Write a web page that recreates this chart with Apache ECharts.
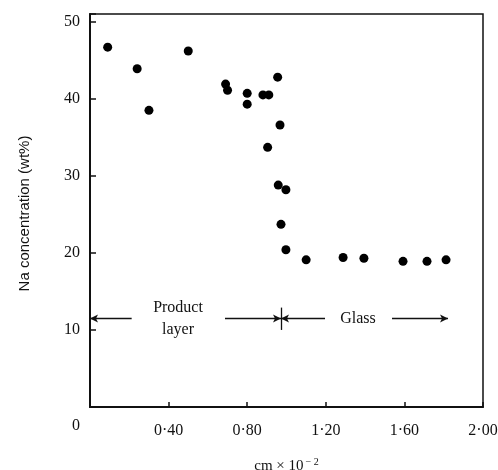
<!DOCTYPE html>
<html>
<head>
<meta charset="utf-8">
<script src="https://cdn.jsdelivr.net/npm/echarts@6/dist/echarts.min.js"></script>
<style>html,body{margin:0;padding:0;background:#fff}#c{width:498px;height:470px}</style>
</head>
<body>
<div id="c"></div>
<script>
var xValues = [0.09,0.24,0.30,0.50,0.69,0.70,0.80,0.80,0.88,0.91,0.955,0.967,0.904,0.958,0.997,0.972,0.997,1.10,1.288,1.394,1.593,1.715,1.812];
var yValues = [46.7,43.9,38.5,46.2,41.9,41.1,40.7,39.3,40.5,40.5,42.8,36.6,33.7,28.8,28.2,23.7,20.4,19.1,19.4,19.3,18.9,18.9,19.1];
var xTicks = [0, 0.4, 0.8, 1.2, 1.6, 2.0];
var yTicks = [0, 10, 20, 30, 40, 50];
var xTitle = 'cm × 10';
var xTitleExp = '− 2';
var yTitle = 'Na concentration (wt%)';
var regionLabels = ['Product\nlayer', 'Glass'];
var regionLabelX = [0.448, 1.364];
var boundaryLevel = 11.5;
var boundaryX = 0.972;
// arrow segments: [fromX, toX] at boundaryLevel, arrowhead at toX
var arrowSegments = [[0.212, 0], [0.687, 0.972], [1.196, 0.972], [1.537, 1.822]];
var boundaryTick = [10.0, 12.9];

var pts = xValues.map(function (x, i) { return [x, yValues[i]]; });
var ink = '#111';
var serif = '"Liberation Serif", "DejaVu Serif", serif';

var markData = arrowSegments.map(function (s) {
  return [
    { coord: [s[0], boundaryLevel], symbol: 'none' },
    { coord: [s[1], boundaryLevel], symbol: 'arrow' }
  ];
});
markData.push([
  { coord: [boundaryX, boundaryTick[0]], symbol: 'none' },
  { coord: [boundaryX, boundaryTick[1]], symbol: 'none' }
]);

var chart = echarts.init(document.getElementById('c'), null, { renderer: 'canvas' });
chart.setOption({
  backgroundColor: '#fff',
  animation: false,
  grid: { left: 90, top: 14, width: 393, height: 393, show: true, borderColor: ink, borderWidth: 1.5,
    backgroundColor: 'transparent', containLabel: false, outerBoundsMode: 'none' },
  xAxis: {
    type: 'value', min: xTicks[0], max: xTicks[xTicks.length - 1], interval: 0.4,
    axisLine: { lineStyle: { color: ink, width: 2 } },
    axisTick: { inside: true, length: 5, lineStyle: { color: ink, width: 1.5 } },
    splitLine: { show: false },
    axisLabel: {
      color: ink, fontFamily: serif, fontSize: 16, margin: 11,
      formatter: function (v) { return v === 0 ? '{z|0}' : '{n|' + v.toFixed(2).replace('.', '·') + '}'; },
      rich: {
        z: { fontFamily: serif, fontSize: 16, color: ink, padding: [0, 28, 0, 0] },
        n: { fontFamily: serif, fontSize: 16, color: ink, padding: [5, 0, 0, 0] }
      }
    },
    name: xTitle + '{sup|' + xTitleExp + '}', nameLocation: 'middle', nameGap: 50,
    nameTextStyle: { color: ink, fontFamily: serif, fontSize: 15,
      rich: { sup: { fontFamily: serif, fontSize: 10, color: ink, verticalAlign: 'top', padding: [0, 0, 8, 2] } } }
  },
  yAxis: {
    type: 'value', min: yTicks[0], max: 51, interval: 10,
    axisLine: { lineStyle: { color: ink, width: 2 } },
    axisTick: { inside: true, length: 6, lineStyle: { color: ink, width: 1.5 } },
    splitLine: { show: false },
    axisLabel: {
      color: ink, fontFamily: serif, fontSize: 16, margin: 10,
      formatter: function (v) { return (v === 0 || v % 10 !== 0) ? '' : String(v); }
    },
    name: yTitle, nameLocation: 'middle', nameGap: 58,
    nameTextStyle: { color: ink, fontFamily: '"Liberation Sans", Arial, sans-serif', fontSize: 15, padding: [0, 6, 0, 0] }
  },
  series: [
    {
      type: 'scatter', data: pts, symbol: 'circle', symbolSize: 9,
      itemStyle: { color: '#000', opacity: 1 },
      markLine: {
        silent: true, symbolSize: [6, 8],
        lineStyle: { color: ink, width: 1.3, type: 'solid', opacity: 1 },
        label: { show: false },
        data: markData
      }
    },
    {
      type: 'scatter', symbolSize: 0, silent: true,
      itemStyle: { opacity: 1 },
      data: regionLabels.map(function (t, i) { return { value: [regionLabelX[i], boundaryLevel], name: t }; }),
      label: { show: true, position: 'inside', formatter: function (p) { return p.name; },
        color: ink, fontFamily: serif, fontSize: 16, lineHeight: 22, align: 'center' }
    }
  ]
});
</script>
</body>
</html>
